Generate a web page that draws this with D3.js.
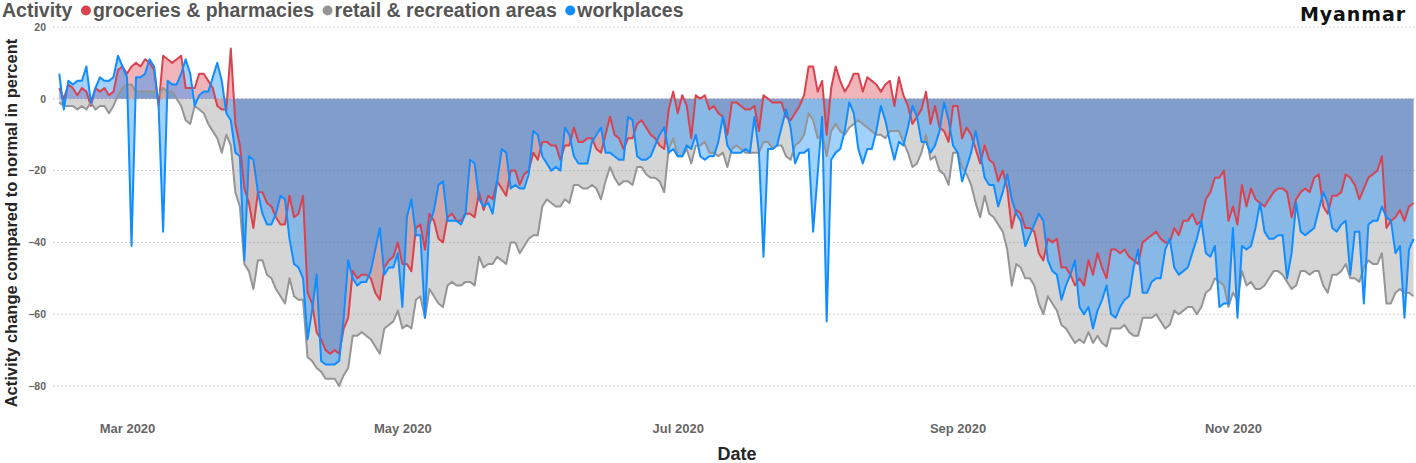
<!DOCTYPE html>
<html>
<head>
<meta charset="utf-8">
<script src="https://cdn.jsdelivr.net/npm/d3@7.9.0/dist/d3.min.js"></script>
<style>
  body { margin: 0; background: #fff; }
  svg { display: block; font-family: "Liberation Sans", Arial, sans-serif; }
</style>
</head>
<body>
<svg id="chart" width="1416" height="463"></svg>
<script>
// daily values, 15 Feb 2020 .. 11 Dec 2020
const startDate = new Date(2020, 1, 15);

const groceries = [
  3,0,4,3,1,3,2,-2,3,2,
  3,1,2,8,9,7,9,10,9,11,
  10,8,-2,12,11,10,11,12,3,3,
  3,7,7,5,3,-2,-3,-3,14,-7,
  -13,-25,-29,-36,-26,-26,-29,-30,-33,-35,
  -35,-27,-33,-32,-27,-54,-57,-65,-67,-70,
  -71,-70,-71,-64,-61,-48,-50,-49,-49,-50,
  -54,-56,-47,-45,-44,-40,-46,-46,-48,-36,
  -35,-42,-32,-34,-39,-40,-33,-32,-34,-34,
  -32,-32,-33,-26,-31,-27,-28,-23,-25,-27,
  -20,-20,-24,-21,-20,-15,-17,-12,-12,-13,
  -13,-17,-13,-13,-8,-12,-12,-11,-11,-14,
  -15,-10,-5,-10,-11,-14,-11,-11,-7,-6,
  -8,-10,-11,-13,-14,-3,2,-4,1,-2,
  -11,1,0,1,-3,-2,-4,-5,-10,-1,
  -1,-2,-3,-3,-2,-9,1,0,-1,-1,
  -1,-5,-6,-4,-2,1,9,9,2,5,
  -10,3,9,5,2,4,7,7,2,6,
  5,4,2,4,5,-2,6,1,-2,-7,
  -5,-3,2,-7,-2,-8,-9,-12,-2,-2,
  -11,-8,-10,-14,-18,-13,-17,-18,-23,-20,
  -25,-36,-31,-32,-36,-36,-37,-43,-45,-39,
  -40,-39,-47,-47,-49,-52,-50,-52,-45,-49,
  -43,-47,-50,-42,-42,-43,-42,-44,-45,-46,
  -40,-39,-38,-37,-39,-40,-40,-36,-38,-34,
  -34,-32,-35,-34,-28,-26,-22,-22,-20,-34,
  -30,-35,-24,-30,-25,-28,-29,-30,-28,-26,
  -25,-25,-26,-33,-28,-26,-25,-26,-22,-21,
  -30,-32,-27,-27,-26,-21,-22,-24,-28,-25,
  -22,-21,-20,-16,-36,-34,-33,-31,-34,-30,
  -29
];

const retail = [
  -1,-2,-2,-2,-3,-2,-3,-1,-3,-2,
  -2,-4,-2,1,3,4,4,2,2,2,
  2,2,1,3,2,2,0,-2,-6,-7,
  -2,-3,-4,-7,-9,-11,-15,-10,-13,-26,
  -30,-46,-48,-53,-45,-45,-49,-50,-53,-55,
  -57,-50,-55,-56,-56,-72,-73,-75,-76,-78,
  -78,-78,-80,-77,-75,-66,-66,-65,-66,-67,
  -69,-71,-64,-63,-62,-59,-64,-63,-64,-56,
  -55,-61,-53,-55,-57,-58,-52,-51,-52,-52,
  -51,-51,-52,-44,-47,-46,-46,-44,-45,-46,
  -40,-40,-43,-41,-39,-38,-38,-30,-28,-29,
  -30,-30,-28,-29,-24,-24,-25,-25,-24,-25,
  -28,-23,-19,-22,-24,-23,-23,-24,-19,-19,
  -21,-22,-22,-23,-26,-14,-11,-16,-16,-14,
  -18,-13,-13,-12,-15,-15,-16,-15,-19,-14,
  -13,-14,-15,-15,-15,-15,-12,-12,-14,-13,
  -13,-16,-17,-13,-12,-10,-4,-6,-11,-10,
  -16,-9,-7,-9,-10,-8,-7,-6,-7,-8,
  -9,-10,-10,-11,-9,-9,-9,-12,-15,-19,
  -18,-15,-10,-17,-16,-20,-21,-24,-15,-15,
  -19,-21,-24,-29,-33,-27,-32,-33,-35,-37,
  -42,-52,-46,-47,-50,-50,-52,-57,-60,-55,
  -57,-59,-63,-64,-66,-68,-67,-68,-65,-68,
  -66,-68,-69,-64,-64,-64,-63,-65,-66,-66,
  -61,-61,-61,-60,-62,-64,-63,-59,-60,-59,
  -58,-58,-60,-58,-54,-53,-50,-51,-52,-58,
  -54,-56,-48,-52,-51,-53,-53,-52,-50,-48,
  -48,-49,-51,-53,-52,-48,-48,-49,-48,-48,
  -52,-54,-49,-49,-48,-46,-50,-50,-51,-47,
  -45,-46,-46,-43,-57,-57,-54,-53,-54,-54,
  -55
];

const workplaces = [
  7,-3,5,4,5,5,9,-1,3,6,
  5,5,6,12,9,6,-41,6,6,7,
  11,9,-2,-37,5,4,4,7,11,7,
  -2,1,2,2,6,10,5,-4,-6,-15,
  -16,-45,-16,-17,-26,-32,-35,-35,-32,-27,
  -28,-39,-46,-47,-50,-67,-59,-49,-73,-74,
  -74,-74,-73,-61,-45,-50,-52,-51,-51,-48,
  -42,-36,-49,-47,-47,-43,-58,-33,-28,-38,
  -38,-61,-35,-31,-24,-23,-34,-34,-34,-35,
  -32,-17,-18,-28,-30,-29,-32,-23,-14,-15,
  -25,-24,-25,-25,-21,-9,-10,-16,-18,-20,
  -19,-20,-8,-10,-16,-18,-18,-18,-12,-10,
  -8,-15,-15,-16,-17,-17,-5,-6,-16,-17,
  -17,-16,-13,-10,-8,-15,-14,-16,-16,-13,
  -14,-10,-16,-17,-16,-16,-12,-5,-13,-15,
  -15,-15,-14,-15,-5,-15,-44,-14,-14,-13,
  -8,-3,-8,-18,-15,-15,-14,-37,-21,-5,
  -62,-17,-15,-14,-9,-1,-4,-14,-18,-14,
  -14,-9,-2,-6,-12,-17,-12,-13,-8,-2,
  -5,-12,-12,-15,-13,-9,-1,-6,-13,-15,
  -23,-19,-15,-9,-15,-22,-24,-24,-30,-26,
  -21,-28,-32,-34,-41,-38,-35,-32,-34,-45,
  -48,-49,-56,-52,-49,-45,-58,-60,-58,-64,
  -59,-56,-52,-60,-61,-58,-56,-55,-47,-42,
  -54,-54,-51,-50,-50,-42,-39,-47,-49,-48,
  -47,-43,-39,-34,-43,-44,-41,-58,-57,-57,
  -36,-61,-41,-42,-41,-36,-29,-37,-39,-39,
  -38,-38,-50,-43,-29,-37,-38,-37,-36,-31,
  -26,-29,-36,-37,-35,-34,-49,-37,-37,-57,
  -35,-34,-34,-30,-33,-34,-43,-41,-61,-42,
  -39
];

const yTicks = [20, 0, -20, -40, -60, -80];
const seriesNames = ["groceries & pharmacies", "retail & recreation areas", "workplaces"];
const seriesColors = ["#d9434f", "#959595", "#118dff"];
const seriesValues = [groceries, retail, workplaces];

const svg = d3.select("#chart");
const dates = groceries.map((_, i) => d3.timeDay.offset(startDate, i));

const x = d3.scaleTime()
  .domain([dates[0], dates[dates.length - 1]])
  .range([59.3, 1413.5]);
const y = d3.scaleLinear().domain([-80, 20]).range([386, 27]);

// grid
svg.append("g").selectAll("line")
  .data(yTicks)
  .join("line")
  .attr("x1", 53).attr("x2", 1416)
  .attr("y1", d => y(d)).attr("y2", d => y(d))
  .attr("stroke", "#bdbdbd")
  .attr("stroke-width", 1)
  .attr("stroke-dasharray", "1.5,2.5");

// areas first, all of them, then the lines
let area = d3.area()
  .x((d, i) => x(dates[i]))
  .y0(y(0))
  .y1(d => y(d));
let line = d3.line()
  .x((d, i) => x(dates[i]))
  .y(d => y(d));

seriesValues.forEach((vals, i) => {
  svg.append("path")
    .attr("d", area(vals))
    .attr("fill", seriesColors[i])
    .attr("fill-opacity", 0.4);
});
seriesValues.forEach((vals, i) => {
  svg.append("path")
    .attr("d", line(vals))
    .attr("fill", "none")
    .attr("stroke", seriesColors[i])
    .attr("stroke-width", 2)
    .attr("stroke-linejoin", "round");
});

// axes
let months = d3.timeMonth.every(2).range(new Date(2020, 2, 1), new Date(2020, 11, 2));
let xAxis = svg.append("g")
  .attr("transform", "translate(0,424)")
  .call(d3.axisBottom(x).tickValues(months).tickFormat(d3.timeFormat("%b %Y")).tickSize(0).tickPadding(0));
xAxis.select(".domain").remove();
xAxis.selectAll("text")
  .attr("dy", "0.71em")
  .style("font-family", '"Liberation Sans", Arial, sans-serif')
  .style("font-size", "13px")
  .style("font-weight", "bold")
  .attr("fill", "#666");

let yAxis = svg.append("g")
  .attr("transform", "translate(46,0)")
  .call(d3.axisLeft(y).tickValues(yTicks).tickSize(0).tickPadding(0));
yAxis.select(".domain").remove();
yAxis.selectAll("text")
  .style("font-family", '"Liberation Sans", Arial, sans-serif')
  .style("font-size", "10.5px")
  .style("font-weight", "bold")
  .attr("fill", "#666");

svg.append("text")
  .attr("x", 737).attr("y", 460)
  .attr("text-anchor", "middle")
  .attr("font-size", 18).attr("font-weight", "bold")
  .attr("fill", "#252525")
  .text("Date");

svg.append("text")
  .attr("transform", "translate(17,223) rotate(-90)")
  .attr("text-anchor", "middle")
  .attr("font-size", 16.5).attr("font-weight", "bold")
  .attr("fill", "#252525")
  .text("Activity change compared to normal in percent");

// legend
let legend = svg.append("g").attr("font-size", 19.5).attr("font-weight", "bold").attr("fill", "#555");
let lx = 2;
let t = legend.append("text").attr("x", lx).attr("y", 17).text("Activity");
lx += t.node().getComputedTextLength();
seriesNames.forEach((name, i) => {
  legend.append("circle")
    .attr("cx", lx + 13.5).attr("cy", 10.5).attr("r", 5)
    .attr("fill", seriesColors[i]);
  let tt = legend.append("text").attr("x", lx + 20.5).attr("y", 17).text(name);
  lx += 20.5 + tt.node().getComputedTextLength();
});

svg.append("text")
  .attr("x", 1300).attr("y", 21)
  .attr("font-family", '"DejaVu Sans", sans-serif')
  .attr("font-size", 19).attr("font-weight", "bold")
  .attr("letter-spacing", 0.9)
  .attr("fill", "#111")
  .text("Myanmar");
</script>
</body>
</html>
